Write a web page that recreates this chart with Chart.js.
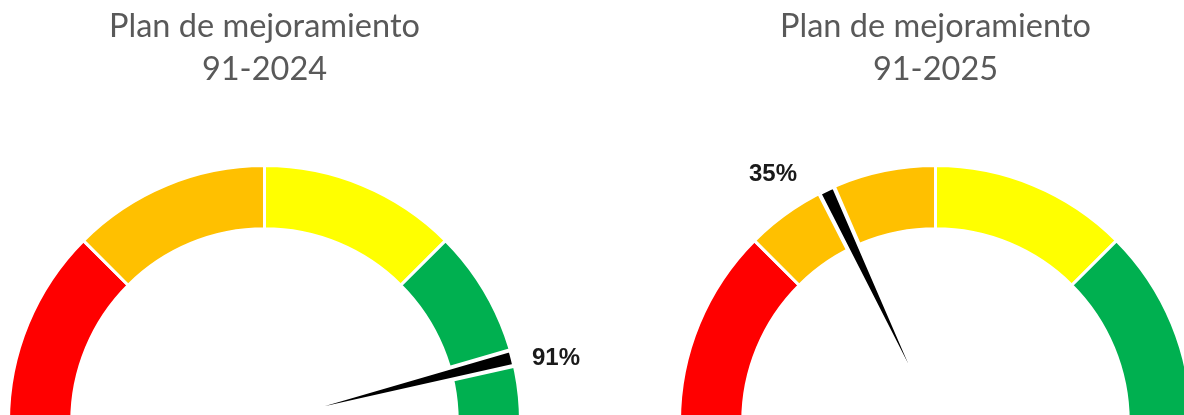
<!DOCTYPE html>
<html>
<head>
<meta charset="utf-8">
<script src="https://cdn.jsdelivr.net/npm/chart.js@4.4.1/dist/chart.umd.min.js"></script>
<style>
  html, body { margin: 0; padding: 0; background: #ffffff; }
  body { width: 1184px; height: 415px; overflow: hidden; position: relative; }
  .g { position: absolute; top: 0; }
  canvas { position: absolute; left: 0; top: 0; }
</style>
</head>
<body>
<div class="g" id="g0" style="left:-66px;width:661px;height:496px;">
  <canvas id="ring0" width="661" height="496"></canvas>
  <canvas id="needle0" width="661" height="496"></canvas>
</div>
<div class="g" id="g1" style="left:605px;width:661px;height:496px;">
  <canvas id="ring1" width="661" height="496"></canvas>
  <canvas id="needle1" width="661" height="496"></canvas>
</div>
<script>
// ---- data ----
const gaugeTitles = [
  ["Plan de mejoramiento", "91-2024"],
  ["Plan de mejoramiento", "91-2025"]
];
const bandLabels = ["0-25%", "25-50%", "50-75%", "75-100%"];
const bandValues = [25, 25, 25, 25];
const gaugeMax = 100;
const needleValues = [91, 35];
const needleWidth = 2;
const valueLabels = ["91%", "35%"];

// ---- style ----
const bandColors = ["#FF0000", "#FFC000", "#FFFF00", "#00B050"];
const titleFontSize = 32.5;
const titleLineHeight = 1.32;
const titlePadTop = 5.4;
const ringRadius = 256;
const ringCutout = "75.3%";
// label placement relative to needle tip: [dx, dy, align]
const labelPlacement = [[19.5, 7, "left"], [-29.5, -9, "right"]];

const titleBoxHeight = titlePadTop + gaugeTitles[0].length * titleFontSize * titleLineHeight;

function ringChart(i) {
  return new Chart(document.getElementById("ring" + i), {
    type: "doughnut",
    data: {
      labels: bandLabels,
      datasets: [{
        data: bandValues,
        backgroundColor: bandColors,
        borderColor: "#ffffff",
        borderWidth: 3
      }]
    },
    options: {
      responsive: false,
      animation: false,
      rotation: -90,
      circumference: 180,
      cutout: ringCutout,
      radius: ringRadius,
      layout: { padding: 0 },
      plugins: {
        legend: { display: false },
        tooltip: { enabled: false },
        title: {
          display: true,
          text: gaugeTitles[i],
          color: "#595959",
          font: { family: "Lato", size: titleFontSize, weight: "normal", lineHeight: titleLineHeight },
          padding: { top: titlePadTop, bottom: 0 }
        }
      }
    }
  });
}

const needleLabelPlugin = {
  id: "needleLabel",
  afterDatasetsDraw(chart) {
    const i = chart.options.plugins.needleLabel.index;
    const arc = chart.getDatasetMeta(0).data[1];
    const p = arc.getProps(["x", "y", "startAngle", "endAngle", "outerRadius"], true);
    const a = (p.startAngle + p.endAngle) / 2;
    const tx = p.x + p.outerRadius * Math.cos(a);
    const ty = p.y + p.outerRadius * Math.sin(a);
    const [dx, dy, align] = labelPlacement[i];
    const ctx = chart.ctx;
    ctx.save();
    ctx.font = "bold 24px 'Liberation Sans', Arial, sans-serif";
    ctx.fillStyle = "#1a1a1a";
    ctx.textAlign = align;
    ctx.textBaseline = "alphabetic";
    ctx.fillText(valueLabels[i], tx + dx, ty + dy);
    ctx.restore();
  }
};

function needleChart(i) {
  const v = needleValues[i];
  return new Chart(document.getElementById("needle" + i), {
    type: "pie",
    data: {
      labels: ["", "valor", ""],
      datasets: [{
        data: [v, needleWidth, gaugeMax - v - needleWidth],
        backgroundColor: ["rgba(0,0,0,0)", "#000000", "rgba(0,0,0,0)"],
        borderColor: ["rgba(0,0,0,0)", "#ffffff", "rgba(0,0,0,0)"],
        borderWidth: [0, 4, 0]
      }]
    },
    options: {
      responsive: false,
      animation: false,
      rotation: -90,
      circumference: 180,
      radius: ringRadius,
      layout: { padding: { top: titleBoxHeight, left: 0, right: 0, bottom: 0 } },
      plugins: {
        legend: { display: false },
        tooltip: { enabled: false },
        title: { display: false },
        needleLabel: { index: i }
      }
    },
    plugins: [needleLabelPlugin]
  });
}

[0, 1].forEach(i => { ringChart(i); needleChart(i); });
</script>
</body>
</html>
